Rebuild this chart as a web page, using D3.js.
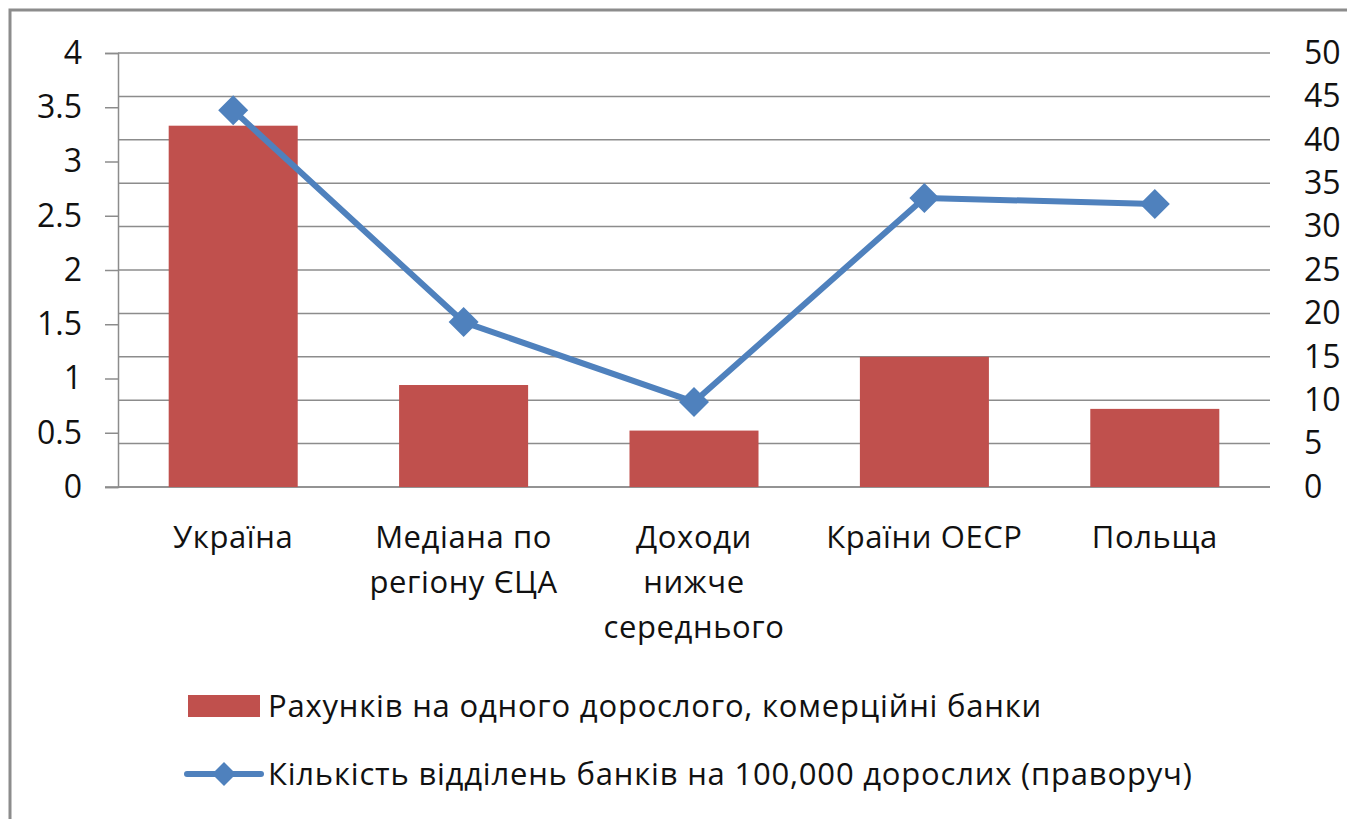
<!DOCTYPE html>
<html>
<head>
<meta charset="utf-8">
<script src="https://cdn.jsdelivr.net/npm/d3@7"></script>
<style>
  body { margin: 0; background: #fff; }
  text { font-family: "Open Sans", sans-serif; fill: #111; }
</style>
</head>
<body>
<svg></svg>
<script>
const categories = [
  ['Україна'],
  ['Медіана по', 'регіону ЄЦА'],
  ['Доходи', 'нижче', 'середнього'],
  ['Країни ОЕСР'],
  ['Польща']
];
const accounts = [3.33, 0.94, 0.52, 1.2, 0.72];
const branches = [43.4, 19.0, 9.8, 33.3, 32.6];
const leftTicks = [0, 0.5, 1, 1.5, 2, 2.5, 3, 3.5, 4];
const rightTicks = [0, 5, 10, 15, 20, 25, 30, 35, 40, 45, 50];
const seriesNames = [
  'Рахунків на одного дорослого, комерційні банки',
  'Кількість відділень банків на 100,000 дорослих (праворуч)'
];

const width = 1347;
const height = 819;
const barColor = '#c0504d';
const lineColor = '#4f81bd';
const gridColor = '#8c8c8c';
const fontSize = '31px';

const svg = d3.select('svg').attr('width', width).attr('height', height);

// frame
svg.append('rect')
  .attr('x', 10).attr('y', 10)
  .attr('width', 1400).attr('height', 900)
  .attr('fill', 'none').attr('stroke', '#8c8c8c').attr('stroke-width', 3);

const plotLeft = 118, plotRight = 1270, plotTop = 53, plotBottom = 487;

const x = d3.scaleBand().domain(d3.range(categories.length)).range([plotLeft, plotRight]).paddingInner(0.44).paddingOuter(0.22);
const xc = d3.scaleBand().domain(d3.range(categories.length)).range([plotLeft, plotRight]);
const yL = d3.scaleLinear().domain([0, 4]).range([plotBottom, plotTop]);
const yR = d3.scaleLinear().domain([0, 50]).range([plotBottom, plotTop]);

// gridlines follow the right axis
svg.append('g')
  .selectAll('line')
  .data(rightTicks)
  .join('line')
  .attr('x1', plotLeft).attr('x2', plotRight)
  .attr('y1', (d) => yR(d)).attr('y2', (d) => yR(d))
  .attr('stroke', gridColor).attr('stroke-width', 1.5);

// left axis
const gL = svg.append('g')
  .attr('transform', 'translate(' + plotLeft + ',0)')
  .call(d3.axisLeft(yL).tickValues(leftTicks).tickSize(13).tickPadding(23).tickFormat((d) => d));
gL.select('.domain').attr('stroke', gridColor).attr('stroke-width', 1.5);
gL.selectAll('.tick line').attr('stroke', gridColor).attr('stroke-width', 1.5);
gL.selectAll('text').style('font-size', '32px').attr('fill', '#111');

// right axis
const gR = svg.append('g')
  .attr('transform', 'translate(' + plotRight + ',0)')
  .call(d3.axisRight(yR).tickValues(rightTicks).tickSize(0).tickPadding(34).tickFormat((d) => d));
gR.select('.domain').remove();
gR.selectAll('text').style('font-size', '32px').attr('fill', '#111');

// bottom axis line
svg.append('line')
  .attr('x1', plotLeft - 13).attr('x2', plotRight)
  .attr('y1', plotBottom).attr('y2', plotBottom)
  .attr('stroke', gridColor).attr('stroke-width', 1.5);

// bars
svg.append('g')
  .selectAll('rect')
  .data(accounts)
  .join('rect')
  .attr('x', (_, i) => x(i))
  .attr('width', x.bandwidth())
  .attr('y', (d) => yL(d))
  .attr('height', (d) => yL(0) - yL(d))
  .attr('fill', barColor);

// line
const line = d3.line()
  .x((_, i) => xc(i) + xc.bandwidth() / 2)
  .y((d) => yR(d));

svg.append('path')
  .datum(branches)
  .attr('d', line)
  .attr('fill', 'none')
  .attr('stroke', lineColor)
  .attr('stroke-width', 6)
  .attr('stroke-linejoin', 'round');

const diamond = (s) => 'M0,' + (-s) + 'L' + s + ',0L0,' + s + 'L' + (-s) + ',0Z';

svg.append('g')
  .selectAll('path')
  .data(branches)
  .join('path')
  .attr('transform', (d, i) => 'translate(' + (xc(i) + xc.bandwidth() / 2) + ',' + yR(d) + ')')
  .attr('d', diamond(15))
  .attr('fill', lineColor);

// category labels
const cat = svg.append('g')
  .selectAll('text')
  .data(categories)
  .join('text')
  .attr('text-anchor', 'middle')
  .style('font-size', fontSize)
  .style('letter-spacing', '0.6px')
  .attr('x', (_, i) => xc(i) + xc.bandwidth() / 2)
  .attr('y', 548);
cat.selectAll('tspan')
  .data((d) => d)
  .join('tspan')
  .attr('x', function () { return d3.select(this.parentNode).attr('x'); })
  .attr('dy', (_, j) => (j === 0 ? 0 : 45))
  .text((d) => d);

// legend
const lg = svg.append('g');
lg.append('rect')
  .attr('x', 188).attr('y', 695)
  .attr('width', 72).attr('height', 22)
  .attr('fill', barColor);
lg.append('text')
  .attr('x', 268).attr('y', 717)
  .style('font-size', fontSize)
  .style('letter-spacing', '0.8px')
  .text(seriesNames[0]);

lg.append('line')
  .attr('x1', 187).attr('x2', 261)
  .attr('y1', 774).attr('y2', 774)
  .attr('stroke', lineColor).attr('stroke-width', 6)
  .attr('stroke-linecap', 'round');
lg.append('path')
  .attr('transform', 'translate(224,774)')
  .attr('d', diamond(12))
  .attr('fill', lineColor);
lg.append('text')
  .attr('x', 268).attr('y', 785)
  .style('font-size', fontSize)
  .style('letter-spacing', '0.8px')
  .text(seriesNames[1]);
</script>
</body>
</html>
